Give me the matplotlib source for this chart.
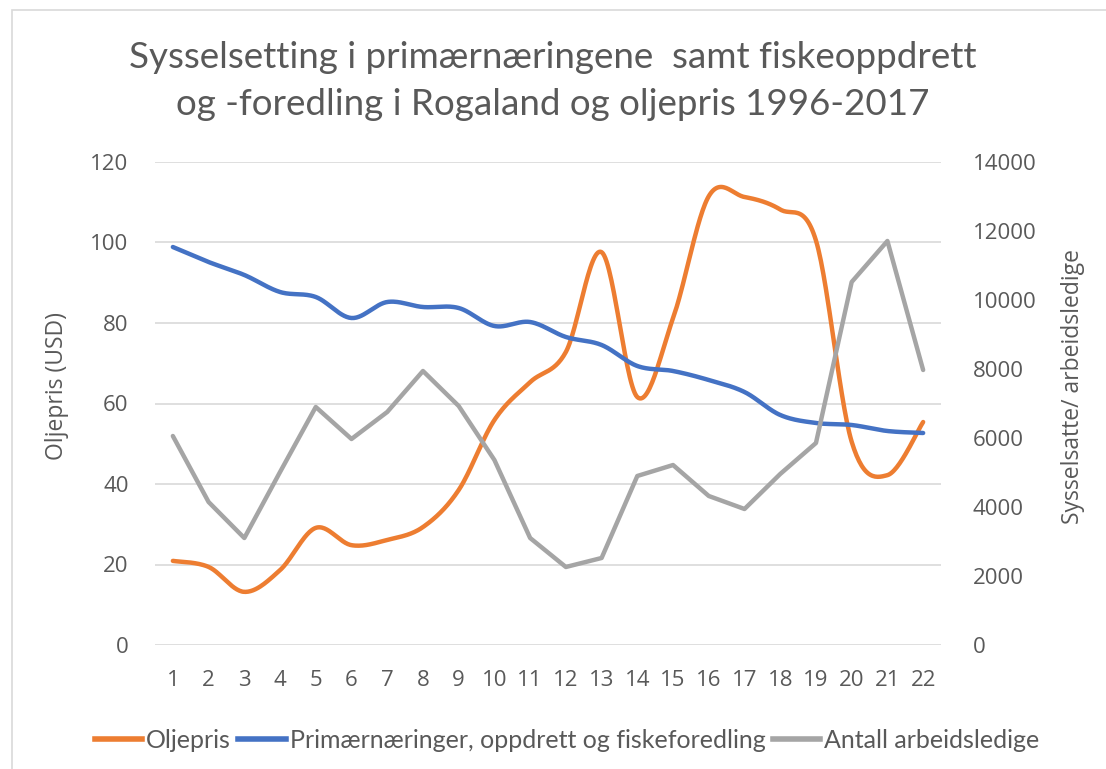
import numpy as np
import matplotlib
matplotlib.use("Agg")
import matplotlib.pyplot as plt
from matplotlib.patches import Rectangle
from matplotlib.lines import Line2D

categories = list(range(1, 23))
oljepris = [20.9, 19.4, 13.2, 18.6, 29.1, 24.8, 26.1, 29.3, 38.5, 55.9, 65.3,
            72.8, 97.6, 61.6, 81.2, 111.5, 111.3, 108.2, 100.5, 50.5, 42.2, 55.4]
primaer = [11536, 11101, 10725, 10232, 10087, 9478, 9942, 9797, 9768, 9246, 9362,
           8928, 8696, 8087, 7942, 7681, 7333, 6667, 6435, 6377, 6203, 6145]
arbeidsledige = [6058, 4145, 3101, 5014, 6899, 5971, 6754, 7942, 6928, 5362, 3101,
                 2261, 2522, 4899, 5217, 4319, 3942, 4957, 5855, 10522, 11710, 7971]

left_ticks = [0, 20, 40, 60, 80, 100, 120]
right_ticks = [0, 2000, 4000, 6000, 8000, 10000, 12000, 14000]

ORANGE = "#ED7D31"
BLUE = "#4472C4"
GRAY = "#A5A5A5"
TXT = "#595959"

plt.rcParams['font.family'] = ['Open Sans', 'DejaVu Sans']


def smooth(x, y, n=30):
    x = np.asarray(x, float)
    y = np.asarray(y, float)
    xs, ys = [], []
    for i in range(len(x) - 1):
        p0 = (x[max(i - 1, 0)], y[max(i - 1, 0)])
        p1 = (x[i], y[i])
        p2 = (x[i + 1], y[i + 1])
        p3 = (x[min(i + 2, len(x) - 1)], y[min(i + 2, len(x) - 1)])
        c1 = (p1[0] + (p2[0] - p0[0]) / 6, p1[1] + (p2[1] - p0[1]) / 6)
        c2 = (p2[0] - (p3[0] - p1[0]) / 6, p2[1] - (p3[1] - p1[1]) / 6)
        t = np.linspace(0, 1, n)
        b0 = (1 - t) ** 3
        b1 = 3 * (1 - t) ** 2 * t
        b2 = 3 * (1 - t) * t ** 2
        b3 = t ** 3
        xs.append(b0 * p1[0] + b1 * c1[0] + b2 * c2[0] + b3 * p2[0])
        ys.append(b0 * p1[1] + b1 * c1[1] + b2 * c2[1] + b3 * p2[1])
    return np.concatenate(xs), np.concatenate(ys)


W, H = 1106, 769
fig = plt.figure(figsize=(W / 100, H / 100), dpi=100)
fig.patches.append(Rectangle((12 / W, -0.01), 1.02, 1 - 10 / H + 0.01,
                             transform=fig.transFigure, fill=False,
                             edgecolor="#D9D9D9", linewidth=1.2))

ax = fig.add_axes([155 / W, 1 - 645 / H, (941 - 155) / W, (645 - 162) / H])
ax2 = ax.twinx()

ax.set_xlim(0.5, 22.5)
ax.set_ylim(0, 120)
ax2.set_ylim(0, 14000)
ax.set_yticks(left_ticks)
ax2.set_yticks(right_ticks)
ax.set_xticks(categories)
ax.set_xticklabels([str(c) for c in categories])

for a in (ax, ax2):
    for s in a.spines.values():
        s.set_visible(False)
    a.tick_params(length=0, colors=TXT, labelsize=16)
ax.tick_params(axis='y', pad=19)
ax2.tick_params(axis='y', pad=23)
ax.tick_params(axis='x', pad=18)
ax.grid(axis='y', color="#D9D9D9", linewidth=1.2)
ax.set_axisbelow(True)

xo, yo = smooth(categories, oljepris)
ax.plot(xo, yo, color=ORANGE, linewidth=3.2, solid_capstyle='round', zorder=3)
xb, yb = smooth(categories, primaer)
ax2.plot(xb, yb, color=BLUE, linewidth=3.2, solid_capstyle='round', zorder=3)
ax2.plot(categories, arbeidsledige, color=GRAY, linewidth=3.2, solid_capstyle='round', zorder=4)

fig.text(57 / W, 1 - 386 / H, "Oljepris (USD)", rotation=90, ha='center', va='center',
         color=TXT, fontsize=16.5)
fig.text(1073 / W, 1 - 387 / H, "Sysselsatte/ arbeidsledige", rotation=90, ha='center',
         va='center', color=TXT, fontsize=16.5)

title_font = ['Lato', 'DejaVu Sans']
fig.text(0.5, 1 - 68 / H, "Sysselsetting i primærnæringene  samt fiskeoppdrett",
         ha='center', va='baseline', fontsize=26.5, color=TXT, family=title_font)
fig.text(0.5, 1 - 115 / H, "og -foredling i Rogaland og oljepris 1996-2017",
         ha='center', va='baseline', fontsize=26.5, color=TXT, family=title_font)

handles = [Line2D([], [], color=ORANGE, linewidth=4),
           Line2D([], [], color=BLUE, linewidth=4),
           Line2D([], [], color=GRAY, linewidth=4)]
labels = ["Oljepris", "Primærnæringer, oppdrett og fiskeforedling", "Antall arbeidsledige"]
fig.legend(handles, labels, loc='center', bbox_to_anchor=(567 / W, 1 - 740 / H),
           ncol=3, frameon=False, handlelength=1.9, handletextpad=0.15,
           columnspacing=0.3, labelcolor=TXT,
           prop={'family': title_font, 'size': 18})

fig.savefig("out.png", dpi=100)
